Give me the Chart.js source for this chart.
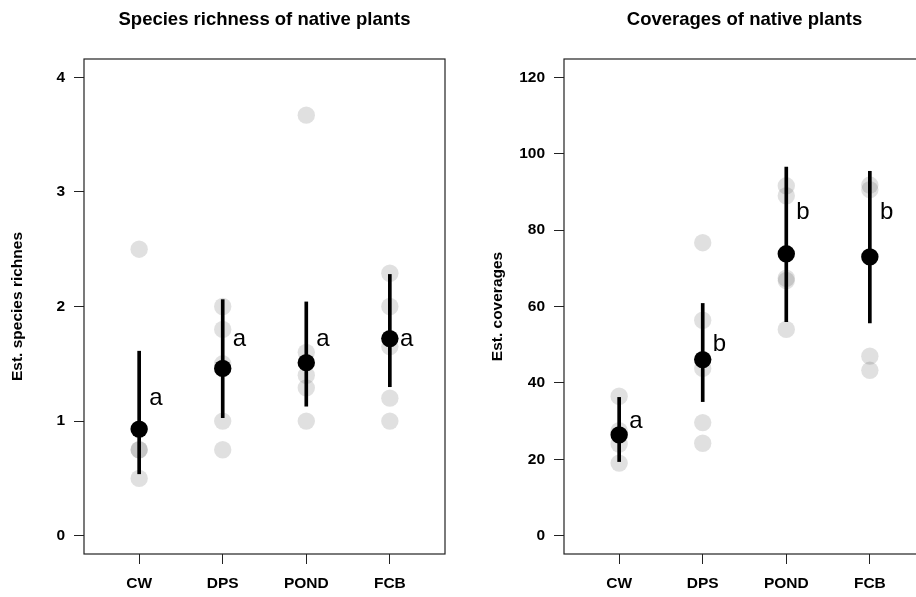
<!DOCTYPE html>
<html>
<head>
<meta charset="utf-8">
<title>Native plants</title>
<script src="https://cdn.jsdelivr.net/npm/chart.js"></script>
<style>
  html, body { margin: 0; padding: 0; background: #fff; overflow: hidden; }
  #wrap { position: relative; width: 916px; height: 597px; overflow: hidden; }
  #richChart { position: absolute; left: 0; top: 0; }
  #coverChart { position: absolute; left: 460px; top: 0; }
</style>
</head>
<body>
<div id="wrap">
  <canvas id="richChart" width="460" height="597" style="width:460px;height:597px"></canvas>
  <canvas id="coverChart" width="480" height="597" style="width:480px;height:597px"></canvas>
</div>
<script>
// sites on the x axis
const sites = ['CW', 'DPS', 'POND', 'FCB'];

// species richness: raw plots (grey), model estimate and interval, letters
const richRaw = [
    [0.5, 0.75, 0.75, 2.5],
    [0.75, 1.0, 1.5, 1.8, 2.0],
    [1.0, 1.29, 1.4, 1.6, 3.67],
    [1.0, 1.2, 1.65, 2.0, 2.29]
];
const richMean = [0.93, 1.46, 1.51, 1.72];
const richLow = [0.54, 1.03, 1.13, 1.30];
const richHigh = [1.61, 2.06, 2.04, 2.28];
const richLetters = ['a', 'a', 'a', 'a'];
const richLetterY = [1.2, 1.71, 1.71, 1.71];
const richTicks = [0, 1, 2, 3, 4];

// coverage
const coverRaw = [
    [19, 24, 27.5, 36.5],
    [24.2, 29.6, 43.8, 56.4, 76.7],
    [54, 66.8, 67.4, 89, 91.6],
    [43.3, 47, 90.6, 91.8]
];
const coverMean = [26.4, 46.1, 73.8, 73.0];
const coverLow = [19.4, 35.1, 56.0, 55.7];
const coverHigh = [36.2, 60.8, 96.5, 95.4];
const coverLetters = ['a', 'b', 'b', 'b'];
const coverLetterY = [30, 50, 84.6, 84.6];
const coverTicks = [0, 20, 40, 60, 80, 100, 120];

const family = '"Liberation Sans", Arial, Helvetica, sans-serif';
const axisFont = { family: family, size: 15.5, weight: 'bold' };

// frame round the plot region, like R's box()
const boxPlugin = {
    id: 'box',
    afterDatasetsDraw(chart) {
        const a = chart.chartArea;
        const ctx = chart.ctx;
        ctx.save();
        ctx.strokeStyle = '#222';
        ctx.lineWidth = 1.2;
        ctx.strokeRect(a.left, a.top, a.right - a.left, a.bottom - a.top);
        ctx.restore();
    }
};

// group letters next to each estimate
const letterPlugin = {
    id: 'letters',
    afterDatasetsDraw(chart, args, opts) {
        const ctx = chart.ctx;
        const x = chart.scales.x;
        const y = chart.scales.y;
        ctx.save();
        ctx.font = '24px ' + family;
        ctx.fillStyle = '#000';
        ctx.textAlign = 'center';
        ctx.textBaseline = 'middle';
        opts.letters.forEach((t, i) => {
            ctx.fillText(t, x.getPixelForValue(i + 1.2), y.getPixelForValue(opts.letterY[i]));
        });
        ctx.restore();
    }
};

function makePanel(id, cfg) {
    const ctx = document.getElementById(id).getContext('2d');
    const rawPoints = [];
    cfg.raw.forEach((vals, i) => vals.forEach(v => rawPoints.push({ x: i + 1, y: v })));

    return new Chart(ctx, {
        type: 'scatter',
        data: {
            datasets: [{
                label: 'estimate',
                data: cfg.mean.map((v, i) => ({ x: i + 1, y: v })),
                backgroundColor: '#000',
                borderWidth: 0,
                pointRadius: 8.7,
                pointHoverRadius: 8.7,
                order: 1
            }, {
                type: 'bar',
                label: 'interval',
                data: cfg.low.map((v, i) => ({ x: i + 1, y: [v, cfg.high[i]] })),
                backgroundColor: '#000',
                borderWidth: 0,
                barThickness: 3,
                grouped: false,
                order: 2
            }, {
                label: 'plots',
                data: rawPoints,
                backgroundColor: 'rgba(0, 0, 0, 0.12)',
                borderWidth: 0,
                pointRadius: 8.7,
                pointHoverRadius: 8.7,
                order: 3
            }]
        },
        options: {
            responsive: false,
            animation: false,
            devicePixelRatio: 1,
            events: [],
            layout: { padding: cfg.padding },
            plugins: {
                legend: { display: false },
                tooltip: { enabled: false },
                title: {
                    display: true,
                    text: cfg.title,
                    color: '#000',
                    fullSize: false,
                    font: { family: family, size: 18.5, weight: 'bold' },
                    padding: { top: 9, bottom: 27.8 }
                },
                letters: { letters: cfg.letters, letterY: cfg.letterY }
            },
            scales: {
                x: {
                    type: 'linear',
                    min: 0.34,
                    max: 4.66,
                    offset: false,
                    afterBuildTicks: axis => { axis.ticks = sites.map((s, i) => ({ value: i + 1 })); },
                    afterFit: axis => { axis.height = 43; },
                    border: { display: false },
                    grid: { drawOnChartArea: false, drawTicks: true, tickLength: 10, color: '#222', offset: false },
                    ticks: {
                        callback: v => sites[v - 1],
                        color: '#000',
                        font: axisFont,
                        padding: 10.7,
                        maxRotation: 0,
                        autoSkip: false
                    }
                },
                y: {
                    type: 'linear',
                    min: cfg.min,
                    max: cfg.max,
                    afterBuildTicks: axis => { axis.ticks = cfg.ticks.map(v => ({ value: v })); },
                    afterFit: axis => { axis.width = 84; },
                    border: { display: false },
                    grid: { drawOnChartArea: false, drawTicks: true, tickLength: 10, color: '#222' },
                    ticks: { color: '#000', font: axisFont, padding: 9 },
                    title: {
                        display: true,
                        text: cfg.ylab,
                        color: '#000',
                        font: axisFont,
                        padding: { top: 8.7, bottom: 0 }
                    }
                }
            }
        },
        plugins: [boxPlugin, letterPlugin]
    });
}

makePanel('richChart', {
    title: 'Species richness of native plants',
    ylab: 'Est. species richnes',
    raw: richRaw, mean: richMean, low: richLow, high: richHigh,
    letters: richLetters, letterY: richLetterY, ticks: richTicks,
    min: -0.16, max: 4.16,
    padding: { left: 0, right: 15, top: 0, bottom: 0 }
});

makePanel('coverChart', {
    title: 'Coverages of native plants',
    ylab: 'Est. coverages',
    raw: coverRaw, mean: coverMean, low: coverLow, high: coverHigh,
    letters: coverLetters, letterY: coverLetterY, ticks: coverTicks,
    min: -4.8, max: 124.8,
    padding: { left: 20, right: 15, top: 0, bottom: 0 }
});
</script>
</body>
</html>
